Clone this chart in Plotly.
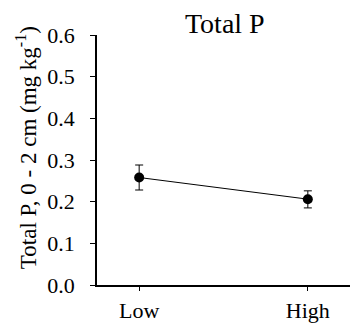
import plotly.graph_objects as go

categories = ["Low", "High"]
x_pos = [0, 1]
means = [0.258, 0.206]
err_plus = [0.030, 0.020]
err_minus = [0.030, 0.021]
y_ticks = [0.0, 0.1, 0.2, 0.3, 0.4, 0.5, 0.6]
y_tick_labels = ["0.0", "0.1", "0.2", "0.3", "0.4", "0.5", "0.6"]
y_title = "Total P, 0 - 2 cm (mg kg<sup>-1</sup>)"

font_family = "Liberation Serif, DejaVu Serif, serif"

fig = go.Figure()
fig.add_trace(go.Scatter(
    x=x_pos, y=means, mode="lines+markers",
    line=dict(color="black", width=1),
    marker=dict(color="black", size=10),
    error_y=dict(type="data", symmetric=False, array=err_plus, arrayminus=err_minus,
                 color="black", thickness=1, width=4),
    showlegend=False,
))

# the page body has an 8px margin, so the figure is sized to fit the window
fig.update_layout(
    width=352, height=317,
    margin=dict(l=89, r=10, t=27, b=40, pad=0),
    paper_bgcolor="white", plot_bgcolor="white",
    font=dict(family=font_family, color="black", size=20),
    title=dict(text="Total P", x=0.616, xanchor="center", y=0.952, yanchor="middle",
               font=dict(size=28, family=font_family)),
)
fig.update_xaxes(
    range=[-0.25, 1.25], tickvals=x_pos, ticktext=categories,
    showline=True, linecolor="black", linewidth=1.5, ticks="outside", ticklen=4,
    tickcolor="black", showgrid=False, zeroline=False, automargin=False,
    tickfont=dict(size=22), ticklabelstandoff=1,
)
fig.update_yaxes(
    range=[0, 0.6], tickvals=y_ticks, ticktext=y_tick_labels,
    showline=True, linecolor="black", linewidth=1.5, ticks="outside", ticklen=5,
    tickcolor="black", showgrid=False, zeroline=False, automargin=False,
    tickfont=dict(size=22), ticklabelstandoff=11,
)
fig.add_annotation(
    text=y_title, textangle=-90, showarrow=False,
    xref="paper", yref="paper", x=-0.278, y=0.55,
    xanchor="center", yanchor="middle",
    font=dict(size=23, family=font_family),
)

fig.write_html("out.html")
